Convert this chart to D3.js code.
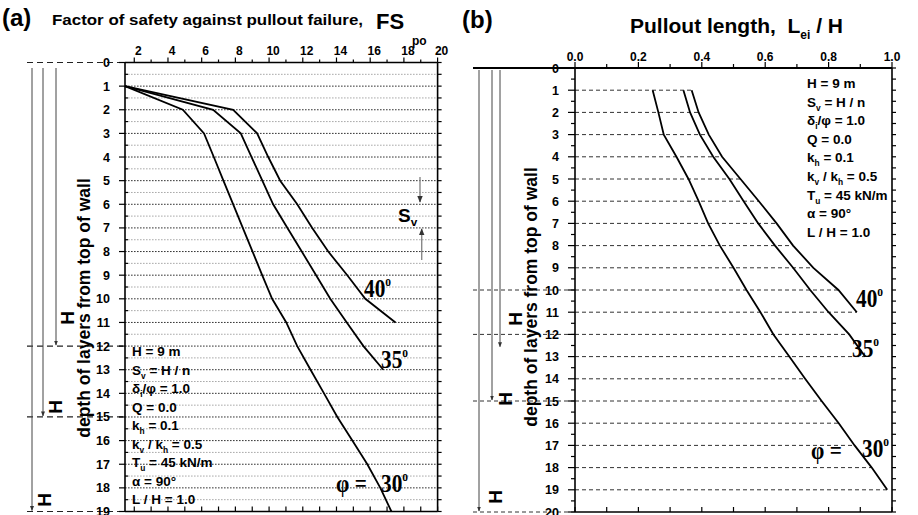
<!DOCTYPE html>
<html><head><meta charset="utf-8">
<script src="https://cdn.jsdelivr.net/npm/d3@7/dist/d3.min.js"></script>
<style>
body{margin:0;background:#fff}
svg{display:block}
text{font-family:"Liberation Sans",Arial,sans-serif;font-weight:bold;fill:#000}
</style>
</head><body>
<svg id="chart" width="918" height="515"></svg>
<script>
// ---------------- DATA ----------------
const layers30 = d3.range(1, 20);   // layer depths 1..19
const layers35 = d3.range(1, 14);   // 1..13
const layers40 = d3.range(1, 12);   // 1..11
// (a) factor of safety against pullout
const fs30 = [1.45, 4.88, 6.14, 6.72, 7.29, 7.87, 8.44, 9.02, 9.59, 10.18, 11.02, 11.67, 12.46, 13.26, 14.05, 14.94, 15.83, 16.6, 17.26];
const fs35 = [1.45, 6.68, 8.32, 8.96, 9.6, 10.24, 11.09, 11.94, 12.79, 13.63, 14.61, 15.6, 16.78];
const fs40 = [1.45, 7.87, 9.29, 9.95, 10.66, 11.67, 12.56, 13.51, 14.64, 15.71, 17.5];
// (b) pullout length Lei/H
const lei30 = [0.245, 0.263, 0.28, 0.32, 0.358, 0.39, 0.42, 0.457, 0.50, 0.541, 0.585, 0.626, 0.676, 0.726, 0.778, 0.832, 0.882, 0.936, 0.985];
const lei35 = [0.342, 0.363, 0.394, 0.436, 0.487, 0.532, 0.578, 0.631, 0.688, 0.742, 0.80, 0.865, 0.915];
const lei40 = [0.368, 0.39, 0.422, 0.464, 0.522, 0.58, 0.636, 0.688, 0.752, 0.831, 0.889];
// ticks
const xTicksA = [2, 4, 6, 8, 10, 12, 14, 16, 18, 20];
const xTicksB = [0, 0.2, 0.4, 0.6, 0.8, 1.0];
const yTicksA = d3.range(0, 20);
const yTicksB = d3.range(0, 21);
// wall heights (brackets)
const bracketsA = [12, 15, 19];
const bracketsB = [12.6, 15, 20];
const dashLeftA = [0, 12, 15, 19];
const dashLeftB = [10, 12, 15, 20];
// parameter box
const params = [
  [["H = 9 m"]],
  [["S"], ["v", 1], [" = H / n"]],
  [["δ"], ["i", 1], ["/φ = 1.0"]],
  [["Q = 0.0"]],
  [["k"], ["h", 1], [" = 0.1"]],
  [["k"], ["v", 1], [" / k"], ["h", 1], [" = 0.5"]],
  [["T"], ["u", 1], [" = 45 kN/m"]],
  [["α = 90°"]],
  [["L / H = 1.0"]]
];

// ---------------- SETUP ----------------
const svg = d3.select("#chart");
svg.append("defs").append("marker").attr("id", "arr").attr("viewBox", "0 0 10 10")
  .attr("refX", 9).attr("refY", 5).attr("markerWidth", 5).attr("markerHeight", 5)
  .attr("orient", "auto-start-reverse")
  .append("path").attr("d", "M0,1 L10,5 L0,9 z").attr("fill", "#333");

const xA = d3.scaleLinear([1.45, 20], [125, 437.6]);
const yA = d3.scaleLinear([0, 19], [62.5, 511.5]);
const xB = d3.scaleLinear([0, 1], [575, 892]);
const yB = d3.scaleLinear([0, 20], [68, 512]);

function richText(g, x, y, segs, size) {
  const t = g.append("text").attr("x", x).attr("y", y).style("font-size", size + "px")
    .attr("xml:space", "preserve");
  segs.forEach((s, i) => {
    const sp = t.append("tspan").text(s[0]);
    if (s[1]) sp.style("font-size", (size * 0.62) + "px").attr("dy", 4);
    else if (i > 0 && segs[i - 1][1]) sp.attr("dy", -4);
  });
  return t;
}
function curveLabel(g, x, y, num) {
  const t = g.append("text").attr("transform", `translate(${x},${y}) scale(0.82,1)`)
    .style("font-family", '"Liberation Serif","Times New Roman",serif').style("font-size", "26px");
  t.append("tspan").text(num);
  t.append("tspan").attr("dy", -11).style("font-size", "14px").text("o");
}
function phiLabel(g, x, y) {
  g.append("text").attr("transform", `translate(${x},${y}) scale(0.82,1)`)
    .style("font-family", '"Liberation Serif","Times New Roman",serif').style("font-size", "26px")
    .text("φ =");
}
function rotText(g, x, y, txt, size) {
  g.append("text").attr("transform", `translate(${x},${y}) rotate(-90)`)
    .attr("text-anchor", "middle").attr("dy", "0.35em").style("font-size", size + "px").text(txt);
}
const line = (g, x1, y1, x2, y2, st) => {
  const l = g.append("line").attr("x1", x1).attr("y1", y1).attr("x2", x2).attr("y2", y2)
    .attr("stroke", st.c || "#000").attr("stroke-width", st.w || 1);
  if (st.d) l.attr("stroke-dasharray", st.d);
  if (st.m) l.attr("marker-end", "url(#arr)");
  return l;
};

// ================= PANEL (a) =================
const ga = svg.append("g");
// grid
d3.range(0.5, 19, 0.5).forEach(d => {
  const integer = Number.isInteger(d);
  line(ga, xA.range()[0], yA(d), xA.range()[1], yA(d),
    {c: integer ? "#333" : "#aaa", w: 1, d: "1.6,1.4"});
});
// left dashed lines and brackets
dashLeftA.forEach(d => line(ga, 27, yA(d), xA.range()[0], yA(d), {c: "#222", w: 1.2, d: "6,4"}));
const bxA = [56, 43, 32];
bracketsA.forEach((d, i) => line(ga, bxA[i], 68, bxA[i], yA(d) - 1, {c: "#444", w: 1, m: true}));
[[67, 318], [55, 407], [44, 500]].forEach(p => rotText(ga, p[0], p[1], "H", 19));
// axes frame
line(ga, xA.range()[0], yA(0), xA.range()[1], yA(0), {w: 1.6});
line(ga, xA.range()[0], yA(19), xA.range()[1], yA(19), {w: 1.6});
line(ga, xA.range()[0], yA(0), xA.range()[0], yA(19), {w: 1.6});
line(ga, xA.range()[1], yA(0), xA.range()[1], yA(19), {w: 1.6});
// top ticks
d3.range(2, 21, 1).forEach(v => line(ga, xA(v), yA(0), xA(v), yA(0) - (v % 2 === 0 ? 5 : 3), {w: 1.2}));
// bottom ticks
d3.range(2, 21, 1).forEach(v => line(ga, xA(v), yA(19), xA(v), yA(19) - 5, {w: 1.2}));
xTicksA.forEach(v => ga.append("text").attr("x", xA(v) + 4).attr("y", 55)
  .attr("text-anchor", "middle").style("font-size", "12px").text(v));
// left & right ticks
d3.range(0, 19.01, 0.5).forEach(d => {
  if (Number.isInteger(d)) line(ga, xA.range()[0] - 6, yA(d), xA.range()[0], yA(d), {w: 1.2});
  else line(ga, xA.range()[0], yA(d), xA.range()[0] + 3, yA(d), {w: 1.2});
  line(ga, xA.range()[1], yA(d), xA.range()[1] + 4, yA(d), {w: 1.2});
});
yTicksA.forEach(d => ga.append("text").attr("x", 110).attr("y", yA(d)).attr("dy", "0.36em")
  .attr("text-anchor", "end").style("font-size", "12.5px").text(d));
// curves
const lineA = d3.line().x(d => xA(d[0])).y(d => yA(d[1]));
[[fs30, layers30], [fs35, layers35], [fs40, layers40]].forEach(([v, ly]) => {
  ga.append("path").datum(v.map((x, i) => [x, ly[i]])).attr("d", lineA)
    .attr("fill", "none").attr("stroke", "#000").attr("stroke-width", 1.8);
});
// Sv marker
line(ga, 420, 177, 420, 202, {c: "#888", w: 1.4, m: true});
line(ga, 421.7, 260, 421.7, 229, {c: "#888", w: 1.4, m: true});
richText(ga, 398, 222, [["S"], ["v", 1]], 19);
// labels
curveLabel(ga, 364, 297, "40");
curveLabel(ga, 381, 368, "35");
phiLabel(ga, 336, 492);
curveLabel(ga, 381, 492, "30");
// params box
params.forEach((segs, i) => richText(ga, 132, 356 + i * 18.5, segs, 13.5));
// titles
ga.append("text").attr("x", 2).attr("y", 26).style("font-size", "24px").text("(a)");
ga.append("text").attr("x", 52).attr("y", 25).style("font-size", "15px")
  .attr("textLength", 311).attr("lengthAdjust", "spacingAndGlyphs")
  .text("Factor of safety against pullout failure,");
ga.append("text").attr("x", 376).attr("y", 29).style("font-size", "22px").text("FS");
ga.append("text").attr("x", 412).attr("y", 45).style("font-size", "12px").text("po");
rotText(ga, 84, 308, "depth of layers from top of wall", 17.5);

// ================= PANEL (b) =================
const gb = svg.append("g");
// layer dashed lines from axis to outermost curve
const allB = [[lei30, layers30], [lei35, layers35], [lei40, layers40]];
layers30.forEach(d => {
  const mx = d3.max(allB, ([v, ly]) => { const k = ly.indexOf(d); return k >= 0 ? v[k] : null; });
  line(gb, xB(0), yB(d), xB(mx), yB(d), {c: "#333", w: 1, d: "4,3"});
});
dashLeftB.forEach(d => line(gb, 473, yB(d), xB(0), yB(d), {c: "#333", w: 1, d: "4,3"}));
line(gb, 473, yB(0), xB(0), yB(0), {w: 2});
const bxB = [500, 492, 479];
bracketsB.forEach((d, i) => line(gb, bxB[i], 70, bxB[i], yB(d) - 1, {c: "#444", w: 1, m: true}));
[[515, 319], [505, 399], [495, 497]].forEach(p => rotText(gb, p[0], p[1], "H", 19));
// frame
line(gb, xB(0), yB(0), xB(1), yB(0), {w: 2});
line(gb, xB(0), yB(20), xB(1), yB(20), {w: 1.6});
line(gb, xB(0), yB(0), xB(0), yB(20), {w: 1.6});
line(gb, xB(1), yB(0), xB(1), yB(20), {w: 1.6});
d3.range(0, 1.001, 0.1).forEach((v, i) => {
  line(gb, xB(v), yB(0), xB(v), yB(0) - (i % 2 === 0 ? 6 : 4), {w: 1.2});
  line(gb, xB(v), yB(20), xB(v), yB(20) - 5, {w: 1.2});
});
xTicksB.forEach(v => gb.append("text").attr("x", xB(v)).attr("y", 61)
  .attr("text-anchor", "middle").style("font-size", "12px").text(d3.format(".1f")(v)));
d3.range(0, 20.01, 0.5).forEach(d => {
  const integer = Number.isInteger(d);
  line(gb, xB(0) - (integer ? 7 : 4), yB(d), xB(0), yB(d), {w: 1.2});
  line(gb, xB(1), yB(d), xB(1) + 4, yB(d), {w: 1.2});
});
yTicksB.forEach(d => gb.append("text").attr("x", 559).attr("y", yB(d)).attr("dy", "0.36em")
  .attr("text-anchor", "end").style("font-size", "12.5px").text(d));
const lineB = d3.line().x(d => xB(d[0])).y(d => yB(d[1]));
allB.forEach(([v, ly]) => {
  gb.append("path").datum(v.map((x, i) => [x, ly[i]])).attr("d", lineB)
    .attr("fill", "none").attr("stroke", "#000").attr("stroke-width", 1.8);
});
curveLabel(gb, 856, 307, "40");
curveLabel(gb, 852, 357, "35");
phiLabel(gb, 811, 459);
curveLabel(gb, 862, 457, "30");
params.forEach((segs, i) => richText(gb, 807, 88 + i * 18.6, segs, 13.5));
gb.append("text").attr("x", 462).attr("y", 28).style("font-size", "24px").text("(b)");
const tb = gb.append("text").attr("x", 630).attr("y", 33).style("font-size", "21px")
  .attr("xml:space", "preserve");
tb.append("tspan").text("Pullout length,\u00a0 L");
tb.append("tspan").attr("dy", 6).style("font-size", "12px").text("ei");
tb.append("tspan").attr("dy", -6).text(" / H");
rotText(gb, 531, 297, "depth of layers from top of wall", 17.5);
</script>
</body></html>
